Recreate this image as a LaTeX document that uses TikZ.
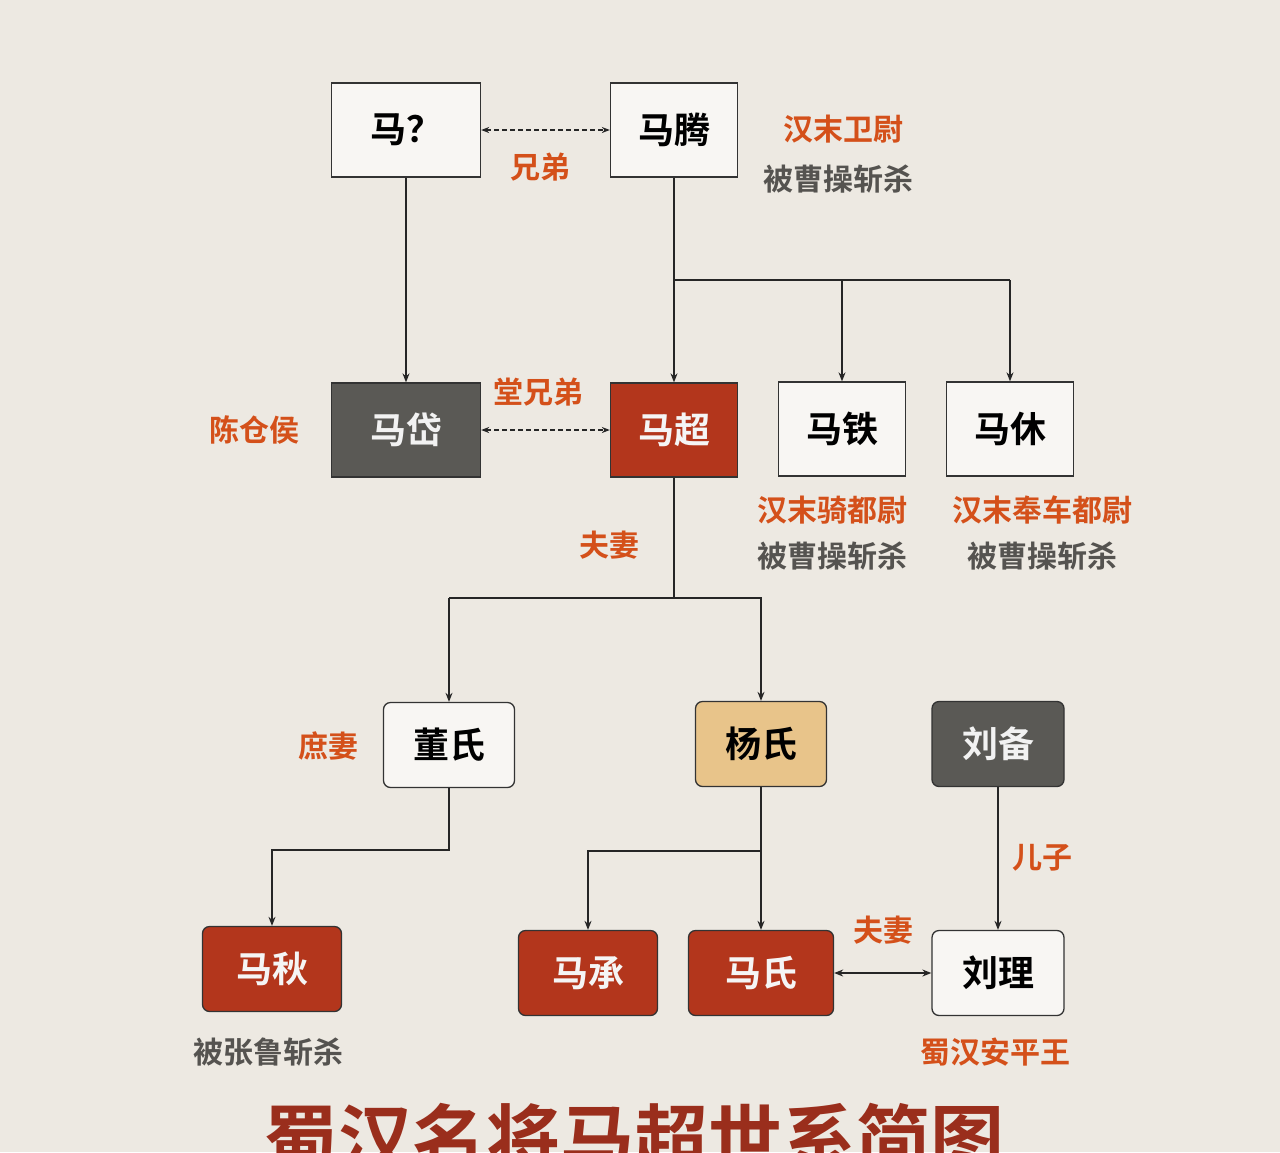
\documentclass[tikz,border=0pt]{standalone}
\usepackage{fontspec}
\setmainfont{Noto Sans CJK SC}[BoldFont={Noto Sans CJK SC Bold}]
\usetikzlibrary{arrows.meta}
\definecolor{bg}{HTML}{EDE9E2}
\definecolor{rd}{HTML}{B3361C}
\definecolor{gy}{HTML}{5A5955}
\definecolor{tan}{HTML}{E8C48A}
\definecolor{og}{HTML}{D4501A}
\definecolor{tx}{HTML}{555350}
\definecolor{ttl}{HTML}{9A2E1C}
\tikzset{
 bx/.style={draw=black!80,line width=1.3pt,fill=#1,minimum height=94pt,font=\fontsize{36}{38}\selectfont\bfseries},
 rb/.style={draw=black!80,line width=1.3pt,fill=#1,rounded corners=7pt,minimum height=85pt,font=\fontsize{36}{38}\selectfont\bfseries},
 lo/.style={text=og,font=\fontsize{30}{32}\selectfont\bfseries},
 lg/.style={text=tx,font=\fontsize{30}{32}\selectfont\bfseries},
 ln/.style={line width=1.3pt,draw=black!85},
 ar/.style={ln,-{Stealth[length=9pt,width=7pt]}},
}
\begin{document}
\begin{tikzpicture}[x=1pt,y=-1pt]
\fill[bg] (0,0) rectangle (1280,1152);
\useasboundingbox (0,0) rectangle (1280,1152);
\node[bx=white!60!bg,minimum width=149pt] (a) at (406,130) {马？};
\node[bx=white!60!bg,minimum width=127pt] (t) at (674,130) {马腾};
\node[bx=gy,text=white!90!gray,minimum width=149pt] (d) at (406,430) {马岱};
\node[bx=rd,text=white!92!gray,minimum width=127pt] (c) at (674,430) {马超};
\node[bx=white!60!bg,minimum width=127pt] (tie) at (842,429) {马铁};
\node[bx=white!60!bg,minimum width=127pt] (xiu) at (1010,429) {马休};
\node[rb=white!60!bg,minimum width=131pt] (dong) at (449,745) {董氏};
\node[rb=tan,minimum width=131pt] (yang) at (761,744) {杨氏};
\node[rb=gy,text=white!90!gray,minimum width=132pt] (bei) at (998,744) {刘备};
\node[rb=rd,text=white!92!gray,minimum width=139pt] (qiu) at (272,969) {马秋};
\node[rb=rd,text=white!92!gray,minimum width=139pt] (cheng) at (588,973) {马承};
\node[rb=rd,text=white!92!gray,minimum width=145pt] (shi) at (761,973) {马氏};
\node[rb=white!60!bg,minimum width=132pt] (li) at (998,973) {刘理};
\draw[ar] (a) -- (d);
\coordinate (j1) at (674,280);
\draw[ar] (t) -- (c);
\draw[ln] (j1) -- (1010,280);
\draw[ar] (842,280) -- (tie);
\draw[ar] (1010,280) -- (xiu);
\tikzset{dsh/.style={ln,dash pattern=on 5pt off 3pt,{Stealth[length=8pt,width=6pt]}-{Stealth[length=8pt,width=6pt]}}}
\draw[dsh] (a) -- (t);
\draw[dsh] (d) -- (c);
\coordinate (j2) at (674,598);
\draw[ln] (c) -- (j2);
\draw[ln] (449,598) -- (762,598);
\draw[ar] (449,598) -- (dong);
\draw[ar] (761,598) -- (yang);
\draw[ar] (dong.south) -- (449,850) -- (272,850) -- (qiu.north);
\draw[ar] (yang) -- (shi);
\draw[ar] (761,851) -- (588,851) -- (cheng.north);
\draw[ar] (bei) -- (li);
\draw[ln,{Stealth[length=9pt,width=7pt]}-{Stealth[length=9pt,width=7pt]}] (shi) -- (li);
\node[lo] (l1) at (540,167) {兄弟};
\node[lo] (l2) at (843,129) {汉末卫尉};
\node[lg] (l3) at (838,179) {被曹操斩杀};
\node[lo] (l4) at (538,392) {堂兄弟};
\node[lo] (l5) at (254,430) {陈仓侯};
\node[lo] (l6) at (832,510) {汉末骑都尉};
\node[lg] (l7) at (832,556) {被曹操斩杀};
\node[lo] (l8) at (1042,510) {汉末奉车都尉};
\node[lg] (l9) at (1042,556) {被曹操斩杀};
\node[lo] (l10) at (609,545) {夫妻};
\node[lo] (l11) at (328,746) {庶妻};
\node[lo] (l12) at (1042,858) {儿子};
\node[lo] (l13) at (883,930) {夫妻};
\node[lg] (l14) at (268,1052) {被张鲁斩杀};
\node[lo] (l15) at (995,1052) {蜀汉安平王};
\begin{scope}
\clip (0,0) rectangle (1280,1152);
\node[text=ttl,font=\fontsize{74}{78}\selectfont\bfseries,anchor=north] (title) at (634,1100) {蜀汉名将马超世系简图};
\end{scope}
\end{tikzpicture}
\end{document}
